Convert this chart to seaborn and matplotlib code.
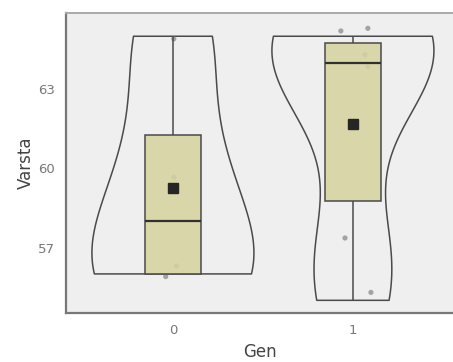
import numpy as np
import pandas as pd
import matplotlib
matplotlib.use("Agg")
import matplotlib.pyplot as plt
import seaborn as sns

# Data
gen0 = [56, 56, 60, 65]
gen1 = [55, 57, 64, 64, 65, 65]
# jittered display positions (points)
jit_x0 = [-0.04, 0.02, 0.005, 0.005]
jit_y0 = [55.9, 56.3, 59.66, 64.9]
jit_x1 = [0.10, -0.044, 0.083, 0.067, -0.067, 0.083]
jit_y1 = [55.3, 57.36, 63.85, 64.3, 65.2, 65.3]
tick_vals = [57, 60, 63]

df = pd.DataFrame({
    "Gen": ["0"] * len(gen0) + ["1"] * len(gen1),
    "Varsta": gen0 + gen1,
})
pts = pd.DataFrame({
    "x": [0 + d for d in jit_x0] + [1 + d for d in jit_x1],
    "y": jit_y0 + jit_y1,
})

sns.set_style("white")
fig = plt.figure(figsize=(4.53, 3.62), dpi=100)
ax = fig.add_axes([66 / 453, 49 / 362, 1 - 66 / 453, 300 / 362])
ax.set_facecolor("#efefef")

sns.violinplot(data=df, x="Gen", y="Varsta", order=["0", "1"], cut=0,
               bw_method=0.6, density_norm="width", width=0.9, inner=None,
               fill=False, color="#4a4a4a", linewidth=1.1, ax=ax)
for c in ax.collections:
    c.set_zorder(1)

sns.scatterplot(data=pts, x="x", y="y", color="#8a8a8a", alpha=0.75, s=14,
                edgecolor="none", ax=ax, zorder=2)

n_lines_before = len(ax.lines)
sns.boxplot(data=df, x="Gen", y="Varsta", order=["0", "1"], width=0.31,
            color="#d6d3a0", linewidth=1.1, linecolor="#4a4a4a",
            showcaps=False, showfliers=False, showmeans=True,
            meanprops={"marker": "s", "markerfacecolor": "#262626",
                       "markeredgecolor": "#262626", "markersize": 6.5},
            medianprops={"color": "#303030", "linewidth": 1.6},
            ax=ax)

for p in ax.patches:
    p.set_facecolor((214 / 255, 211 / 255, 160 / 255, 0.88))
    p.set_edgecolor("#4a4a4a")
    p.set_zorder(3)
for ln in ax.lines[n_lines_before:]:
    ln.set_alpha(1)
    if ln.get_marker() == "s":
        ln.set_zorder(5)
    else:
        ln.set_zorder(4)

ax.set_xlim(-0.594, 1.556)
ax.set_ylim(54.52, 65.88)
ax.set_yticks(tick_vals)
ax.set_yticklabels([str(v) for v in tick_vals])
ax.set_xticks([0, 1])
ax.set_xticklabels(["0", "1"])
ax.tick_params(axis="both", colors="#666666", labelsize=9.5, length=4,
               width=1.2, labelcolor="#777777", pad=4)
ax.set_xlabel("Gen", fontsize=12, color="#444444", labelpad=4)
ax.set_ylabel("Varsta", fontsize=12, color="#444444", labelpad=2)

for s in ["left", "bottom"]:
    ax.spines[s].set_color("#777777")
    ax.spines[s].set_linewidth(1.6)
ax.spines["top"].set_color("#aaaaaa")
ax.spines["top"].set_linewidth(1.4)
ax.spines["right"].set_visible(False)

fig.savefig("out.png", dpi=100)
